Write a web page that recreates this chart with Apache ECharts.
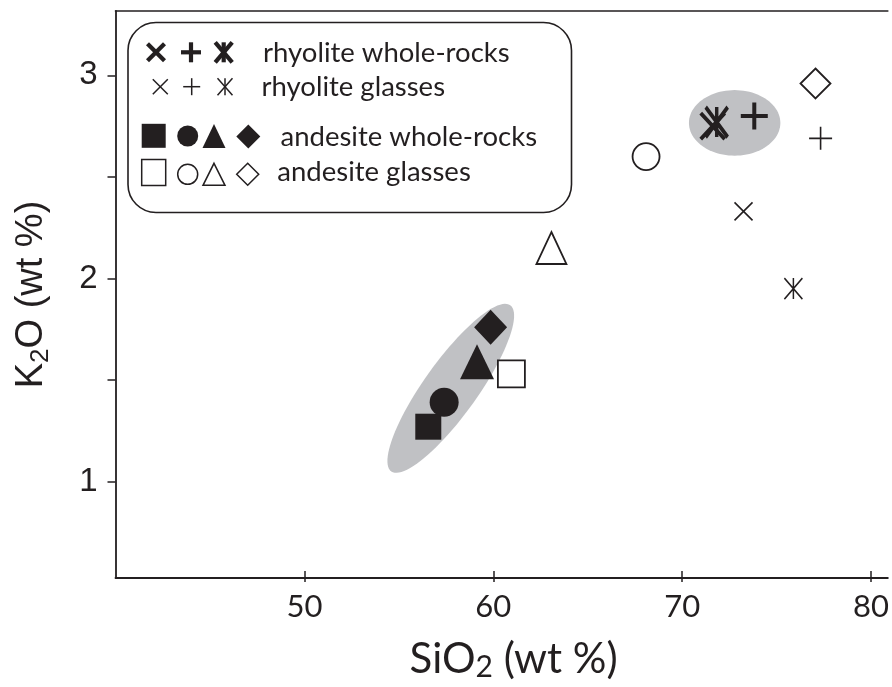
<!DOCTYPE html>
<html>
<head>
<meta charset="utf-8">
<script src="https://cdn.jsdelivr.net/npm/echarts@6/dist/echarts.min.js"></script>
<style>
  html, body { margin: 0; padding: 0; background: #fff; }
  #chart { width: 892px; height: 687px; }
</style>
</head>
<body>
<div id="chart"></div>
<script>
// K2O vs SiO2 (wt %) for rhyolite and andesite samples

// Axis ranges and ticks (the plot frame runs off the right edge of the page)
const xRange = [40, 80.89];
const yRange = [0.525, 3.317];
const xTicks = [50, 60, 70, 80];
const yTicks = [1, 1.5, 2, 2.5, 3];
const yTickLabels = [1, 2, 3];

// Andesite whole-rocks  [SiO2, K2O]
const andWRsquare   = [56.56, 1.27];
const andWRcircle   = [57.40, 1.39];
const andWRtriangle = [59.14, 1.59];
const andWRdiamond  = [59.86, 1.76];

// Andesite glasses
const andGLsquare   = [60.96, 1.53];
const andGLcircle   = [68.09, 2.60];
const andGLtriangle = [63.08, 2.15];
const andGLdiamond  = [77.06, 2.96];

// Rhyolite whole-rocks
const rhyWRcross = [71.62, 2.75];
const rhyWRplus  = [73.82, 2.80];
const rhyWRstar  = [71.83, 2.77];

// Rhyolite glasses
const rhyGLcross = [73.25, 2.33];
const rhyGLplus  = [77.33, 2.69];
const rhyGLstar  = [75.89, 1.95];

// Shaded compositional fields: centre (x, y), end of long semi-axis (x, y), short/long axis ratio
const andesiteField = [57.75, 1.459, 60.90, 1.868, 0.262];
const rhyoliteField = [72.78, 2.766, 75.20, 2.766, 0.717];

const INK = '#231f20';
const FIELD = '#c0c1c4';
const PLUS  = 'path://M0,5L10,5M5,0L5,10';
const CROSS = 'path://M0,0L10,10M0,10L10,0';
const STAR  = 'path://M0,0L10,10M0,10L10,0M5,0L5,10';
const HUMANIST = 'Lato, "Open Sans", sans-serif';
const GROTESK = '"Liberation Sans", Arial, sans-serif';

function filled(name, point, symbol, size) {
  return {
    name, type: 'scatter', data: [point], symbol, symbolSize: size, z: 5,
    itemStyle: { color: INK, opacity: 1 }
  };
}
function open(name, point, symbol, size) {
  return {
    name, type: 'scatter', data: [point], symbol, symbolSize: size, z: 5,
    itemStyle: { color: '#fff', borderColor: INK, borderWidth: 1.8, opacity: 1 }
  };
}
function stroke(name, point, symbol, size, width) {
  return {
    name, type: 'scatter', data: [point], symbol, symbolSize: size, z: 6,
    itemStyle: { color: 'rgba(0,0,0,0)', borderColor: INK, borderWidth: width, opacity: 1 }
  };
}

// Legend marks
function legendMark(kind, cx, cy, w, h, mode) {
  const fillStyle = { fill: INK, stroke: null };
  const openStyle = { fill: '#fff', stroke: INK, lineWidth: 1.5 };
  const st = mode === 'filled' ? fillStyle : openStyle;
  const lw = mode === 'bold' ? 4.2 : 1.5;
  const ls = { stroke: INK, lineWidth: lw };
  const hw = w / 2, hh = h / 2;
  const line = (x1, y1, x2, y2) => ({ type: 'line', shape: { x1, y1, x2, y2 }, style: ls });
  switch (kind) {
    case 'square':
      return [{ type: 'rect', shape: { x: cx - hw, y: cy - hh, width: w, height: h }, style: st }];
    case 'circle':
      return [{ type: 'circle', shape: { cx, cy, r: hw }, style: st }];
    case 'triangle':
      return [{ type: 'polygon', shape: { points: [[cx, cy - hh], [cx + hw, cy + hh], [cx - hw, cy + hh]] }, style: st }];
    case 'diamond':
      return [{ type: 'polygon', shape: { points: [[cx, cy - hh], [cx + hw, cy], [cx, cy + hh], [cx - hw, cy]] }, style: st }];
    case 'plus':
      return [line(cx - hw, cy, cx + hw, cy), line(cx, cy - hh, cx, cy + hh)];
    case 'cross':
      return [line(cx - hw, cy - hh, cx + hw, cy + hh), line(cx - hw, cy + hh, cx + hw, cy - hh)];
    case 'star':
      return [line(cx - hw, cy - hh, cx + hw, cy + hh), line(cx - hw, cy + hh, cx + hw, cy - hh),
              line(cx, cy - hh, cx, cy + hh)];
  }
  return [];
}

const legendFont = '27.5px ' + HUMANIST;
function legendText(text, x, baseline) {
  return { type: 'text', style: { text, x, y: baseline, font: legendFont, fill: INK,
    textAlign: 'left', textVerticalAlign: 'bottom' } };
}

const legendChildren = [
  { type: 'rect', shape: { x: 128, y: 22.5, width: 443.5, height: 190, r: 28 },
    style: { fill: '#fff', stroke: INK, lineWidth: 1.6 } },
  ...legendMark('cross', 156, 52.3, 17, 17, 'bold'),
  ...legendMark('plus', 191, 52.3, 20, 20, 'bold'),
  ...legendMark('star', 223.7, 52.3, 17, 20, 'bold'),
  legendText('rhyolite whole-rocks', 263, 67),
  ...legendMark('cross', 160.3, 86.7, 15, 15, 'thin'),
  ...legendMark('plus', 191.7, 86.7, 17, 17, 'thin'),
  ...legendMark('star', 225, 86.7, 15, 17, 'thin'),
  legendText('rhyolite glasses', 261.5, 101.5),
  ...legendMark('square', 153.7, 135.8, 24, 24, 'filled'),
  ...legendMark('circle', 187.7, 136, 21, 21, 'filled'),
  ...legendMark('triangle', 214, 136, 23, 24, 'filled'),
  ...legendMark('diamond', 248.3, 136.5, 24, 24, 'filled'),
  legendText('andesite whole-rocks', 280.5, 151.5),
  ...legendMark('square', 153.7, 172.5, 24, 26, 'open'),
  ...legendMark('circle', 187.7, 174.3, 20, 20, 'open'),
  ...legendMark('triangle', 214, 174.3, 22, 22, 'open'),
  ...legendMark('diamond', 247.7, 174.3, 22, 22, 'open'),
  legendText('andesite glasses', 277.3, 186.5)
];

function renderField(params, api) {
  const c = api.coord([api.value(0), api.value(1)]);
  const e = api.coord([api.value(2), api.value(3)]);
  const a = Math.hypot(e[0] - c[0], e[1] - c[1]);
  const b = a * api.value(4);
  const ang = Math.atan2(e[1] - c[1], e[0] - c[0]);
  const ca = Math.cos(ang), sa = Math.sin(ang);
  const pts = [];
  for (let i = 0; i < 96; i++) {
    const t = (i / 96) * Math.PI * 2;
    const u = a * Math.cos(t), v = b * Math.sin(t);
    pts.push([c[0] + u * ca - v * sa, c[1] + u * sa + v * ca]);
  }
  return { type: 'polygon', shape: { points: pts }, style: { fill: FIELD, stroke: null } };
}

const chart = echarts.init(document.getElementById('chart'), null, { renderer: 'canvas' });

chart.setOption({
  animation: false,
  backgroundColor: '#fff',
  grid: { left: 115.5, top: 11, right: 0, height: 572.3, show: false },
  xAxis: [{
    type: 'value', min: xRange[0], max: xRange[1], position: 'bottom',
    axisLine: { show: true, lineStyle: { color: INK, width: 1.8 } },
    axisTick: { show: true, inside: true, length: 7, customValues: xTicks, lineStyle: { color: INK, width: 1.5 } },
    axisLabel: { customValues: xTicks, color: INK, fontSize: 31, fontFamily: HUMANIST, margin: 13 },
    splitLine: { show: false },
    name: '{a|SiO}{s|2}{a| (wt %)}',
    nameLocation: 'middle', nameGap: 58,
    nameTextStyle: {
      padding: [0, 0, 0, 24],
      rich: {
        a: { fontSize: 42, fontFamily: HUMANIST, color: INK, lineHeight: 46 },
        s: { fontSize: 30, fontFamily: HUMANIST, color: INK, verticalAlign: 'bottom', lineHeight: 40 }
      }
    }
  }, {
    type: 'value', min: xRange[0], max: xRange[1], position: 'bottom',
    axisLine: { show: false },
    axisTick: { show: true, inside: false, length: 4, customValues: xTicks, lineStyle: { color: INK, width: 1.5 } },
    axisLabel: { show: false },
    splitLine: { show: false }
  }, {
    type: 'value', min: xRange[0], max: xRange[1], position: 'top',
    axisLine: { show: true, lineStyle: { color: INK, width: 1.6 } },
    axisTick: { show: false },
    axisLabel: { show: false },
    splitLine: { show: false }
  }],
  yAxis: {
    type: 'value', min: yRange[0], max: yRange[1],
    axisLine: { show: true, lineStyle: { color: INK, width: 1.8 } },
    axisTick: { show: true, inside: false, length: 8, customValues: yTicks, lineStyle: { color: INK, width: 1.5 } },
    axisLabel: { customValues: yTickLabels, color: INK, fontSize: 33, fontFamily: GROTESK, margin: 18 },
    splitLine: { show: false },
    name: '{a|K}{s|2}{a|O (wt %)}',
    nameLocation: 'middle', nameRotate: 90, nameGap: 62,
    nameTextStyle: {
      rich: {
        a: { fontSize: 38, fontFamily: GROTESK, color: INK, lineHeight: 44 },
        s: { fontSize: 26, fontFamily: GROTESK, color: INK, verticalAlign: 'bottom', lineHeight: 26 }
      }
    }
  },
  graphic: [{ type: 'group', children: legendChildren, z: 100 }],
  series: [
    {
      name: 'fields', type: 'custom', renderItem: renderField, z: 1, silent: true,
      encode: { x: [0, 2], y: [1, 3] },
      data: [andesiteField, rhyoliteField]
    },
    filled('andesite whole-rock square', andWRsquare, 'rect', 26),
    filled('andesite whole-rock circle', andWRcircle, 'circle', 29),
    filled('andesite whole-rock triangle', andWRtriangle, 'triangle', [34, 35]),
    filled('andesite whole-rock diamond', andWRdiamond, 'diamond', [33, 35]),
    open('andesite glass square', andGLsquare, 'rect', 27),
    open('andesite glass circle', andGLcircle, 'circle', 27),
    open('andesite glass triangle', andGLtriangle, 'triangle', [30, 32]),
    open('andesite glass diamond', andGLdiamond, 'diamond', [30, 30]),
    stroke('rhyolite whole-rock cross', rhyWRcross, CROSS, [24, 26], 4),
    stroke('rhyolite whole-rock star', rhyWRstar, STAR, [22, 30], 4),
    stroke('rhyolite whole-rock plus', rhyWRplus, PLUS, [27, 27], 4),
    stroke('rhyolite glass cross', rhyGLcross, CROSS, [18, 18], 1.6),
    stroke('rhyolite glass plus', rhyGLplus, PLUS, [23, 23], 1.6),
    stroke('rhyolite glass star', rhyGLstar, STAR, [18, 21], 1.6)
  ]
});
</script>
</body>
</html>
